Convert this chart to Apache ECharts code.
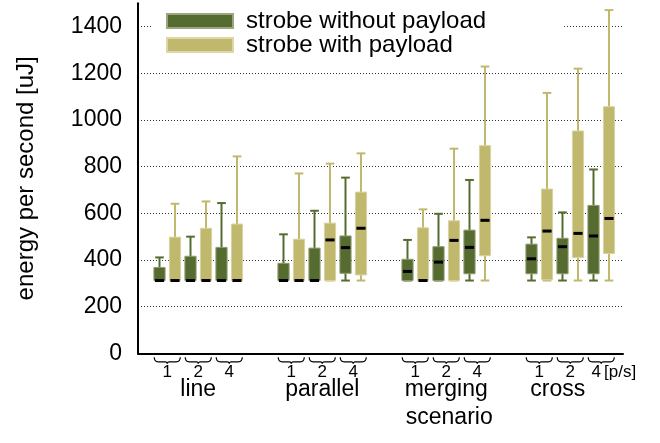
<!DOCTYPE html>
<html>
<head>
<meta charset="utf-8">
<script src="https://cdn.jsdelivr.net/npm/echarts@6/dist/echarts.min.js"></script>
<style>
  html, body { margin: 0; padding: 0; background: #fff; }
  #chart { width: 660px; height: 443px; }
</style>
</head>
<body>
<div id="chart"></div>
<script>
const scenarios = ['line', 'parallel', 'merging', 'cross'];
const rates = ['1', '2', '4'];
const seriesNames = ['strobe without payload', 'strobe with payload'];
// rows: [min, q1, median, q3, max], scenario by scenario, rates 1/2/4
const withoutPayload = [
  [312, 312, 312, 368, 411],
  [312, 312, 312, 416, 500],
  [312, 312, 312, 454, 644],
  [312, 312, 312, 386, 510],
  [312, 312, 312, 451, 611],
  [312, 343, 453, 503, 753],
  [312, 312, 351, 403, 486],
  [312, 312, 391, 457, 598],
  [312, 341, 454, 528, 743],
  [312, 341, 405, 468, 497],
  [312, 341, 457, 493, 604],
  [312, 341, 503, 634, 788]
];
const withPayload = [
  [312, 312, 312, 498, 641],
  [312, 312, 312, 536, 651],
  [312, 312, 312, 554, 844],
  [312, 312, 312, 489, 771],
  [312, 312, 486, 558, 813],
  [312, 336, 536, 691, 857],
  [312, 312, 312, 538, 617],
  [312, 312, 484, 568, 877],
  [312, 418, 570, 890, 1229],
  [312, 315, 524, 704, 1116],
  [312, 410, 514, 953, 1220],
  [312, 428, 578, 1057, 1471]
];
const yMax = 1500;
const yStep = 200;

const FONT = 'Liberation Sans, Arial, Helvetica, sans-serif';
const DARK = '#566b2f';
const KHAKI = '#c0b86c';

// slots on the category axis: 3 rates per scenario plus an empty gap slot
const slots = [];
scenarios.forEach((s, i) => {
  rates.forEach(r => slots.push(r));
  if (i < scenarios.length - 1) slots.push('');
});
const slotOf = i => Math.floor(i / rates.length) * (rates.length + 1) + (i % rates.length);

const toData = rows => rows.map((r, i) => [slotOf(i)].concat(r));
const braceData = withoutPayload.map((r, i) => [slotOf(i), 0]);

function boxRenderer(side, fill, edge) {
  return function (params, api) {
    const slot = api.value(0);
    const band = api.size([1, 0])[0];
    const cx = api.coord([slot, 0])[0] + side * band / 4;
    const y = [1, 2, 3, 4, 5].map(d => api.coord([slot, api.value(d)])[1]);
    const bw = band * 0.36;
    const cw = band * 0.28;
    return {
      type: 'group',
      children: [
        { type: 'line', shape: { x1: cx, y1: y[0], x2: cx, y2: y[4] }, style: { stroke: fill, lineWidth: 2 } },
        { type: 'line', shape: { x1: cx - cw / 2, y1: y[4], x2: cx + cw / 2, y2: y[4] }, style: { stroke: fill, lineWidth: 2 } },
        { type: 'line', shape: { x1: cx - cw / 2, y1: y[0], x2: cx + cw / 2, y2: y[0] }, style: { stroke: fill, lineWidth: 2 } },
        { type: 'rect', shape: { x: cx - bw / 2, y: y[3], width: bw, height: y[1] - y[3] }, style: { fill: fill, stroke: edge, lineWidth: 1 } },
        { type: 'line', shape: { x1: cx - bw / 2 + 1, y1: y[2], x2: cx + bw / 2 - 1, y2: y[2] }, style: { stroke: '#000', lineWidth: 3 } }
      ]
    };
  };
}

function braceRenderer(params, api) {
  const slot = api.value(0);
  const band = api.size([1, 0])[0];
  const p = api.coord([slot, 0]);
  const cx = p[0], ay = p[1];
  const hw = band * 0.42;
  const y0 = ay + 4, yb = ay + 8.5, tip = ay + 10.5;
  const d = 'M' + (cx - hw) + ' ' + y0 +
    ' Q' + (cx - hw) + ' ' + yb + ' ' + (cx - hw + 4) + ' ' + yb +
    ' L' + (cx - 2) + ' ' + yb +
    ' Q' + cx + ' ' + yb + ' ' + cx + ' ' + tip +
    ' Q' + cx + ' ' + yb + ' ' + (cx + 2) + ' ' + yb +
    ' L' + (cx + hw - 4) + ' ' + yb +
    ' Q' + (cx + hw) + ' ' + yb + ' ' + (cx + hw) + ' ' + y0;
  return { type: 'path', shape: { pathData: d }, style: { fill: 'none', stroke: '#000', lineWidth: 1.2 } };
}

const chart = echarts.init(document.getElementById('chart'), null, { renderer: 'canvas' });
chart.setOption({
  animation: false,
  textStyle: { fontFamily: FONT },
  legend: {
    orient: 'vertical',
    left: 152,
    top: 0,
    padding: [9, 78, 4, 14],
    itemGap: 0,
    itemWidth: 66,
    itemHeight: 14,
    backgroundColor: '#fff',
    icon: 'rect',
    data: seriesNames,
    textStyle: { fontSize: 24, color: '#000', fontFamily: FONT, padding: [0, 0, 0, 8] }
  },
  grid: [
    { left: 138, right: 37, top: 3.33, bottom: 89.67 },
    { left: 151.75, right: 43.25, top: 3.33, bottom: 89.67 }
  ],
  xAxis: [
    {
      gridIndex: 0, type: 'value', min: 0, max: 1,
      axisLine: { show: true, lineStyle: { color: '#000', width: 2 } },
      axisTick: { show: false }, axisLabel: { show: false }, splitLine: { show: false }
    },
    {
      gridIndex: 1, type: 'category', data: slots, boundaryGap: true,
      axisLine: { show: false }, axisTick: { show: false }, splitLine: { show: false },
      name: 'scenario', nameLocation: 'middle', nameGap: 48,
      nameTextStyle: { fontSize: 23, color: '#000', fontFamily: FONT, padding: [0, 0, 0, 130] },
      axisLabel: {
        interval: 0, margin: 11, color: '#000', fontFamily: FONT,
        formatter: function (value, index) {
          if (value === '') return '';
          const g = Math.floor(index / (rates.length + 1));
          const last = index === slots.length - 1;
          if (index % (rates.length + 1) === 1) {
            return '{r|' + value + '}\n{' + (g === scenarios.length - 1 ? 'gl' : 'g') + '|' + scenarios[g] + '}';
          }
          return '{' + (last ? 'rl' : 'r') + '|' + value + '}';
        },
        rich: {
          r: { fontSize: 17, lineHeight: 16, color: '#000', fontFamily: FONT },
          rl: { fontSize: 17, lineHeight: 16, color: '#000', fontFamily: FONT, padding: [0, 10, 0, 0] },
          g: { fontSize: 23, lineHeight: 18, color: '#000', fontFamily: FONT },
          gl: { fontSize: 23, lineHeight: 18, color: '#000', fontFamily: FONT, padding: [0, 25, 0, 0] }
        }
      }
    }
  ],
  yAxis: [
    {
      gridIndex: 0, type: 'value', min: 0, max: yMax, interval: yStep,
      name: 'energy per second [uJ]', nameLocation: 'middle', nameGap: 100,
      nameTextStyle: { fontSize: 24, color: '#000', fontFamily: FONT },
      axisLine: { show: true, lineStyle: { color: '#000', width: 2 } },
      axisTick: { show: false },
      axisLabel: { fontSize: 23, color: '#000', margin: 16, showMaxLabel: false, fontFamily: FONT, formatter: v => String(v) },
      splitLine: { show: true, showMinLine: false, showMaxLine: false, lineStyle: { color: '#333', width: 1, type: [1, 2] } }
    },
    {
      gridIndex: 1, type: 'value', min: 0, max: yMax, show: false
    }
  ],
  series: [
    {
      name: seriesNames[0], type: 'custom', xAxisIndex: 1, yAxisIndex: 1,
      itemStyle: { color: DARK, borderColor: '#9aa680', borderWidth: 1 },
      encode: { x: 0, y: [1, 2, 3, 4, 5] },
      renderItem: boxRenderer(-1, DARK, '#8f9c72'),
      data: toData(withoutPayload), z: 3
    },
    {
      name: seriesNames[1], type: 'custom', xAxisIndex: 1, yAxisIndex: 1,
      itemStyle: { color: KHAKI, borderColor: '#dcd6a8', borderWidth: 1 },
      encode: { x: 0, y: [1, 2, 3, 4, 5] },
      renderItem: boxRenderer(1, KHAKI, '#d9d3a3'),
      data: toData(withPayload), z: 3
    },
    {
      type: 'custom', xAxisIndex: 1, yAxisIndex: 1, silent: true, clip: false,
      encode: { x: 0, y: 1 },
      renderItem: braceRenderer,
      data: braceData, z: 3
    }
  ],
  graphic: [
    { type: 'text', left: 604, top: 364, style: { text: '[p/s]', fontSize: 17, fill: '#000', fontFamily: FONT } }
  ]
});
</script>
</body>
</html>
